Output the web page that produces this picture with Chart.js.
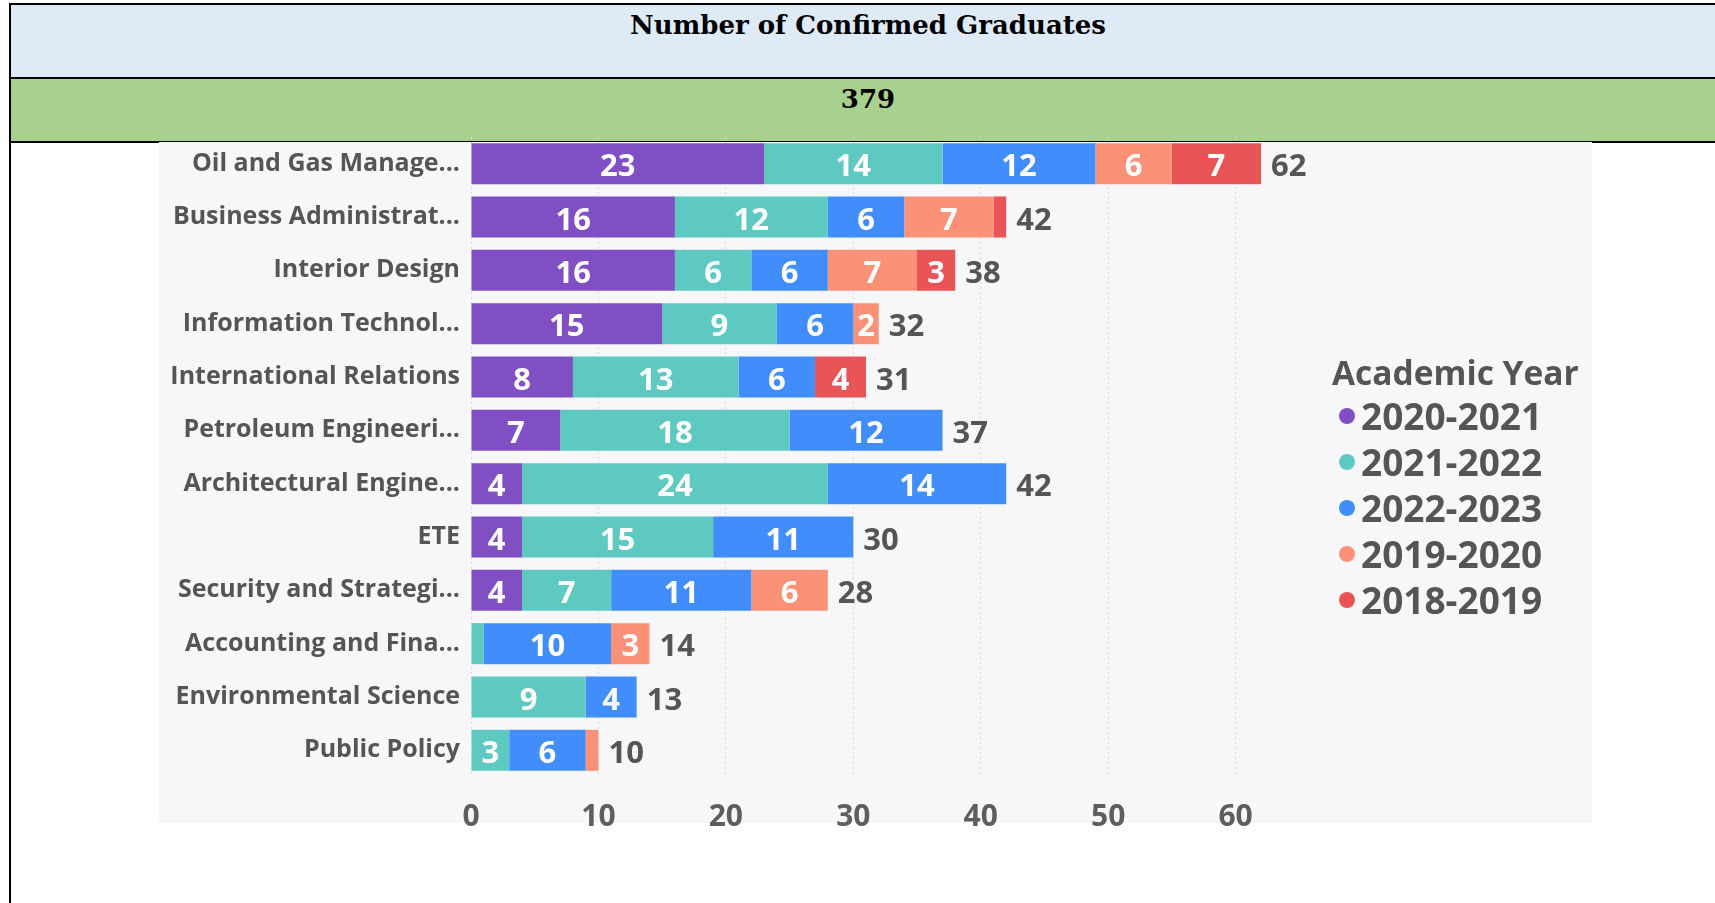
<!DOCTYPE html>
<html>
<head>
<meta charset="utf-8">
<script src="https://cdn.jsdelivr.net/npm/chart.js@4.4.1/dist/chart.umd.min.js"></script>
<style>
  body { margin: 0; width: 1715px; height: 903px; background: #fff; position: relative; overflow: hidden; font-family: "Open Sans", sans-serif; }
  .abs { position: absolute; }
  .line { background: #000; }
  .head { left: 0; width: 1736px; text-align: center; font-family: "DejaVu Serif", serif; font-weight: bold; font-size: 26px; color: #000; height: 36px; line-height: 36px; }
  #panel { left: 159px; top: 142px; width: 1433px; height: 681px; background: #f7f7f9; }
  #wrap { left: 159px; top: 111px; width: 1433px; height: 739px; }
  .leg { color: #555; font-weight: bold; white-space: nowrap; }
  .dot { width: 16px; height: 16px; border-radius: 50%; }
</style>
</head>
<body>
<div class="abs" style="left:11px;top:5px;width:1710px;height:72px;background:#deebf7"></div>
<div class="abs" style="left:11px;top:79px;width:1710px;height:62px;background:#a9d18e"></div>
<div class="abs line" style="left:9px;top:3px;width:1710px;height:2px"></div>
<div class="abs line" style="left:9px;top:77px;width:1710px;height:2px"></div>
<div class="abs line" style="left:9px;top:141px;width:1710px;height:2px"></div>
<div class="abs line" style="left:9px;top:3px;width:2px;height:900px"></div>
<div class="abs head" style="top:7px">Number of Confirmed Graduates</div>
<div class="abs head" id="total" style="top:81px"></div>
<div class="abs" id="panel"></div>
<div class="abs" id="wrap"><canvas id="chart" width="1433" height="739"></canvas></div>
<div id="legend"></div>
<script>
// categories, top to bottom
const categories = [
  "Oil and Gas Manage...",
  "Business Administrat...",
  "Interior Design",
  "Information Technol...",
  "International Relations",
  "Petroleum Engineeri...",
  "Architectural Engine...",
  "ETE",
  "Security and Strategi...",
  "Accounting and Fina...",
  "Environmental Science",
  "Public Policy"
];

const seriesNames = ["2020-2021", "2021-2022", "2022-2023", "2019-2020", "2018-2019"];
const seriesColors = ["#7f4fc3", "#5ec9c1", "#418dfc", "#fb9177", "#e95457"];

const y2020_2021 = [23, 16, 16, 15, 8, 7, 4, 4, 4, null, null, null];
const y2021_2022 = [14, 12, 6, 9, 13, 18, 24, 15, 7, 1, 9, 3];
const y2022_2023 = [12, 6, 6, 6, 6, 12, 14, 11, 11, 10, 4, 6];
const y2019_2020 = [6, 7, 7, 2, null, null, null, null, 6, 3, null, 1];
const y2018_2019 = [7, 1, 3, null, 4, null, null, null, null, null, null, null];

const xTicks = [0, 10, 20, 30, 40, 50, 60];
const headline = "379";

const seriesValues = [y2020_2021, y2021_2022, y2022_2023, y2019_2020, y2018_2019];
const totals = categories.map((c, i) => seriesValues.reduce((s, arr) => s + (arr[i] || 0), 0));

document.getElementById("total").textContent = headline;

// legend (html, right side)
const legend = document.getElementById("legend");
const title = document.createElement("div");
title.className = "abs leg";
title.style.cssText = "left:1332px;top:351px;font-size:33.5px;line-height:42px";
title.textContent = "Academic Year";
legend.appendChild(title);
seriesNames.forEach((name, i) => {
  const cy = 416 + i * 46;
  const dot = document.createElement("div");
  dot.className = "abs dot";
  dot.style.left = "1339px";
  dot.style.top = (cy - 8) + "px";
  dot.style.background = seriesColors[i];
  legend.appendChild(dot);
  const t = document.createElement("div");
  t.className = "abs leg";
  t.style.cssText = "left:1361px;font-size:37px;line-height:44px;top:" + (cy - 22) + "px";
  t.textContent = name;
  legend.appendChild(t);
});

const labelPlugin = {
  id: "barLabels",
  afterDatasetsDraw(chart) {
    const ctx = chart.ctx;
    ctx.save();
    ctx.font = "bold 31px 'Open Sans'";
    ctx.textBaseline = "middle";
    ctx.textAlign = "center";
    ctx.fillStyle = "#ffffff";
    chart.data.datasets.forEach((ds, d) => {
      const meta = chart.getDatasetMeta(d);
      meta.data.forEach((el, i) => {
        const v = ds.data[i];
        if (v == null || v < 2) return;
        ctx.fillText(String(v), (el.x + el.base) / 2, el.y + 4);
      });
    });
    ctx.textAlign = "left";
    ctx.fillStyle = "#555555";
    const xs = chart.scales.x, ys = chart.scales.y;
    totals.forEach((t, i) => {
      ctx.fillText(String(t), xs.getPixelForValue(t) + 10, ys.getPixelForValue(i) + 4);
    });
    ctx.restore();
  }
};

new Chart(document.getElementById("chart").getContext("2d"), {
  type: "bar",
  data: {
    labels: categories,
    datasets: seriesNames.map((name, i) => ({
      label: name,
      data: seriesValues[i],
      backgroundColor: seriesColors[i],
      borderWidth: 0,
      barPercentage: 0.77,
      categoryPercentage: 1
    }))
  },
  options: {
    indexAxis: "y",
    responsive: false,
    animation: false,
    layout: { padding: { top: 7, bottom: 13, left: 0, right: 229 } },
    scales: {
      x: {
        stacked: true,
        min: 0,
        max: 70,
        afterBuildTicks: (s) => { s.ticks = xTicks.map((v) => ({ value: v })); },
        afterFit: (s) => { s.height = 60; },
        grid: { color: "#d9d9d9", drawTicks: false },
        border: { display: false, dash: [2, 3] },
        ticks: { color: "#605e5c", padding: 22, font: { family: "Open Sans", size: 30, weight: "bold" } }
      },
      y: {
        stacked: true,
        afterFit: (s) => { s.width = 312; },
        grid: { display: false, drawTicks: false },
        border: { display: false },
        ticks: { color: "#555555", padding: 11, autoSkip: false, font: { family: "Open Sans", size: 25, weight: "bold" } }
      }
    },
    plugins: {
      legend: { display: false },
      tooltip: { enabled: false }
    }
  },
  plugins: [labelPlugin]
});
</script>
</body>
</html>
